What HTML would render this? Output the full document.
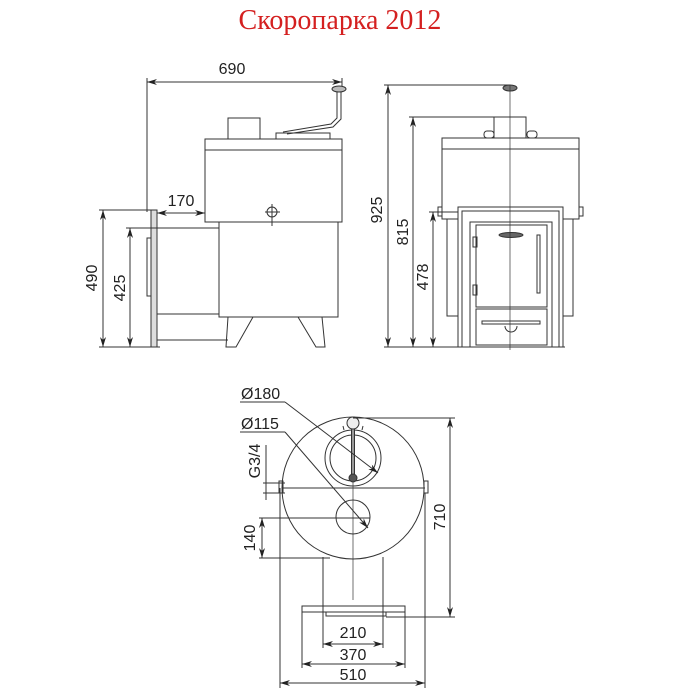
<!DOCTYPE html>
<html><head><meta charset="utf-8"><style>
body{margin:0;background:#fff;width:700px;height:700px;overflow:hidden}
svg{display:block}
text{font-family:"Liberation Sans",sans-serif;fill:#222}
</style></head><body>
<svg width="700" height="700" viewBox="0 0 700 700" xmlns="http://www.w3.org/2000/svg">
<defs>
<marker id="a" viewBox="0 0 10 6" refX="10" refY="3" markerWidth="10" markerHeight="6" orient="auto-start-reverse" markerUnits="userSpaceOnUse"><path d="M0,0 L10,3 L0,6 L3,3z" fill="#222"/></marker>
</defs>
<text x="340" y="29" text-anchor="middle" style="font-family:'Liberation Serif',serif;font-size:28px;fill:#d42020">Скоропарка 2012</text>
<g stroke="#333" stroke-width="1" fill="none">
<!-- side view -->
<line x1="147" y1="78" x2="147" y2="212"/>
<line x1="342" y1="78" x2="342" y2="88"/>
<line x1="147" y1="82" x2="342" y2="82" marker-start="url(#a)" marker-end="url(#a)"/>
<rect x="228" y="118" width="32" height="21"/>
<path d="M283,132 L331,124 L337,118 L337,92"/><path d="M287,134 L333,127 L341,119 L341,92"/>
<ellipse cx="339" cy="89" rx="7" ry="3" fill="#bbb"/>
<rect x="276" y="133" width="54" height="6"/>
<rect x="205" y="139" width="137" height="83"/>
<line x1="205" y1="150" x2="342" y2="150"/>
<circle cx="272" cy="212" r="5"/><line x1="272" y1="204" x2="272" y2="226"/><line x1="265" y1="212" x2="280" y2="212"/>
<rect x="219" y="222" width="119" height="95"/>
<path d="M228,317 L226,347 L236,347 L253,317"/><path d="M298,317 L316,347 L325,347 L322,317"/>
<line x1="157" y1="228" x2="219" y2="228"/>
<line x1="157" y1="314" x2="219" y2="314"/>
<line x1="157" y1="340" x2="228" y2="340"/>
<rect x="151" y="210" width="6" height="137" fill="#ddd"/>
<rect x="147" y="238" width="4" height="58"/>
<line x1="99" y1="210" x2="151" y2="210"/><line x1="126" y1="228" x2="219" y2="228"/>
<line x1="99" y1="347" x2="160" y2="347"/>
<line x1="157" y1="213" x2="205" y2="213" marker-start="url(#a)" marker-end="url(#a)"/>
<line x1="103" y1="210" x2="103" y2="347" marker-start="url(#a)" marker-end="url(#a)"/>
<line x1="130" y1="228" x2="130" y2="347" marker-start="url(#a)" marker-end="url(#a)"/>
<!-- front view -->
<line x1="384" y1="85" x2="510" y2="85"/><line x1="409" y1="117" x2="494" y2="117"/>
<line x1="429" y1="212" x2="460" y2="212"/><line x1="384" y1="347" x2="565" y2="347"/>
<line x1="388" y1="85" x2="388" y2="347" marker-start="url(#a)" marker-end="url(#a)"/>
<line x1="413" y1="117" x2="413" y2="347" marker-start="url(#a)" marker-end="url(#a)"/>
<line x1="433" y1="212" x2="433" y2="347" marker-start="url(#a)" marker-end="url(#a)"/>
<ellipse cx="510" cy="88" rx="7" ry="3" fill="#777"/>
<rect x="494" y="117" width="32" height="21"/>
<rect x="484" y="131" width="10" height="7" rx="3"/><rect x="527" y="131" width="10" height="7" rx="3"/>
<rect x="442" y="138" width="137" height="81"/><line x1="442" y1="149" x2="579" y2="149"/>
<rect x="438" y="207" width="4" height="9"/><rect x="579" y="207" width="4" height="9"/>
<rect x="447" y="219" width="126" height="97"/>
<rect x="458" y="207" width="105" height="140" fill="#fff"/>
<rect x="462" y="211" width="97" height="136"/>
<rect x="470" y="222" width="82" height="125"/>
<rect x="476" y="225" width="71" height="82"/>
<rect x="476" y="309" width="71" height="36"/>
<rect x="482" y="321" width="58" height="3"/>
<path d="M505,326 a6,6 0 1,0 12,0"/>
<ellipse cx="511" cy="235" rx="12" ry="2.5" fill="#666"/>
<rect x="537" y="235" width="3" height="58"/>
<rect x="473" y="237" width="4" height="10"/><rect x="473" y="285" width="4" height="10"/>
<line x1="510" y1="85" x2="510" y2="350" stroke-width="0.7"/>
<!-- top view -->
<circle cx="353" cy="488" r="71" fill="#fff"/>
<line x1="282" y1="488" x2="425" y2="488"/>
<rect x="279" y="481" width="4" height="12"/><rect x="424" y="481" width="4" height="12"/>
<circle cx="353" cy="458" r="28"/><circle cx="353" cy="458" r="23"/>
<path d="M344,430 L343,426 M362,430 L363,426"/>
<circle cx="353" cy="517" r="17"/>
<line x1="353" y1="423" x2="353" y2="600" stroke-width="0.7"/>
<rect x="351.5" y="428" width="3" height="50" fill="#999"/>
<circle cx="353" cy="423" r="6" fill="#eee"/><circle cx="353" cy="478" r="4" fill="#555"/>
<line x1="240" y1="402" x2="285" y2="402"/><line x1="285" y1="402" x2="378" y2="473" marker-end="url(#a)"/>
<line x1="240" y1="432" x2="285" y2="432"/><line x1="285" y1="432" x2="368" y2="528" marker-end="url(#a)"/>
<line x1="323" y1="557" x2="323" y2="606"/><line x1="383" y1="557" x2="383" y2="606"/>
<rect x="302" y="606" width="103" height="6"/>
<rect x="326" y="612" width="60" height="4"/>
<line x1="353" y1="418" x2="455" y2="418"/><line x1="386" y1="617" x2="455" y2="617"/>
<line x1="450" y1="418" x2="450" y2="617" marker-start="url(#a)" marker-end="url(#a)"/>
<line x1="280" y1="488" x2="280" y2="688"/><line x1="425" y1="493" x2="425" y2="688"/>
<line x1="302" y1="612" x2="302" y2="668"/><line x1="405" y1="612" x2="405" y2="668"/>
<line x1="323" y1="606" x2="323" y2="648"/><line x1="383" y1="606" x2="383" y2="648"/>
<line x1="280" y1="683" x2="425" y2="683" marker-start="url(#a)" marker-end="url(#a)"/>
<line x1="302" y1="664" x2="405" y2="664" marker-start="url(#a)" marker-end="url(#a)"/>
<line x1="323" y1="644" x2="383" y2="644" marker-start="url(#a)" marker-end="url(#a)"/>
<line x1="263" y1="483" x2="285" y2="483"/><line x1="263" y1="493" x2="285" y2="493"/>
<line x1="266" y1="445" x2="266" y2="500"/>
<line x1="259" y1="518" x2="370" y2="518"/><line x1="259" y1="558" x2="330" y2="558"/>
<line x1="262" y1="518" x2="262" y2="558" marker-start="url(#a)" marker-end="url(#a)"/>
</g>
<g style="font-size:16px">
<text x="232" y="74" text-anchor="middle">690</text>
<text x="181" y="206" text-anchor="middle">170</text>
<text transform="translate(97,278) rotate(-90)" text-anchor="middle">490</text>
<text transform="translate(125,288) rotate(-90)" text-anchor="middle">425</text>
<text transform="translate(382,210) rotate(-90)" text-anchor="middle">925</text>
<text transform="translate(408,232) rotate(-90)" text-anchor="middle">815</text>
<text transform="translate(428,277) rotate(-90)" text-anchor="middle">478</text>
<text x="241" y="399">Ø180</text>
<text x="241" y="429">Ø115</text>
<text transform="translate(260,461) rotate(-90)" text-anchor="middle">G3/4</text>
<text transform="translate(255,538) rotate(-90)" text-anchor="middle">140</text>
<text transform="translate(445,517) rotate(-90)" text-anchor="middle">710</text>
<text x="353" y="638" text-anchor="middle">210</text>
<text x="353" y="660" text-anchor="middle">370</text>
<text x="353" y="680" text-anchor="middle">510</text>
</g>
</svg>
</body></html>
